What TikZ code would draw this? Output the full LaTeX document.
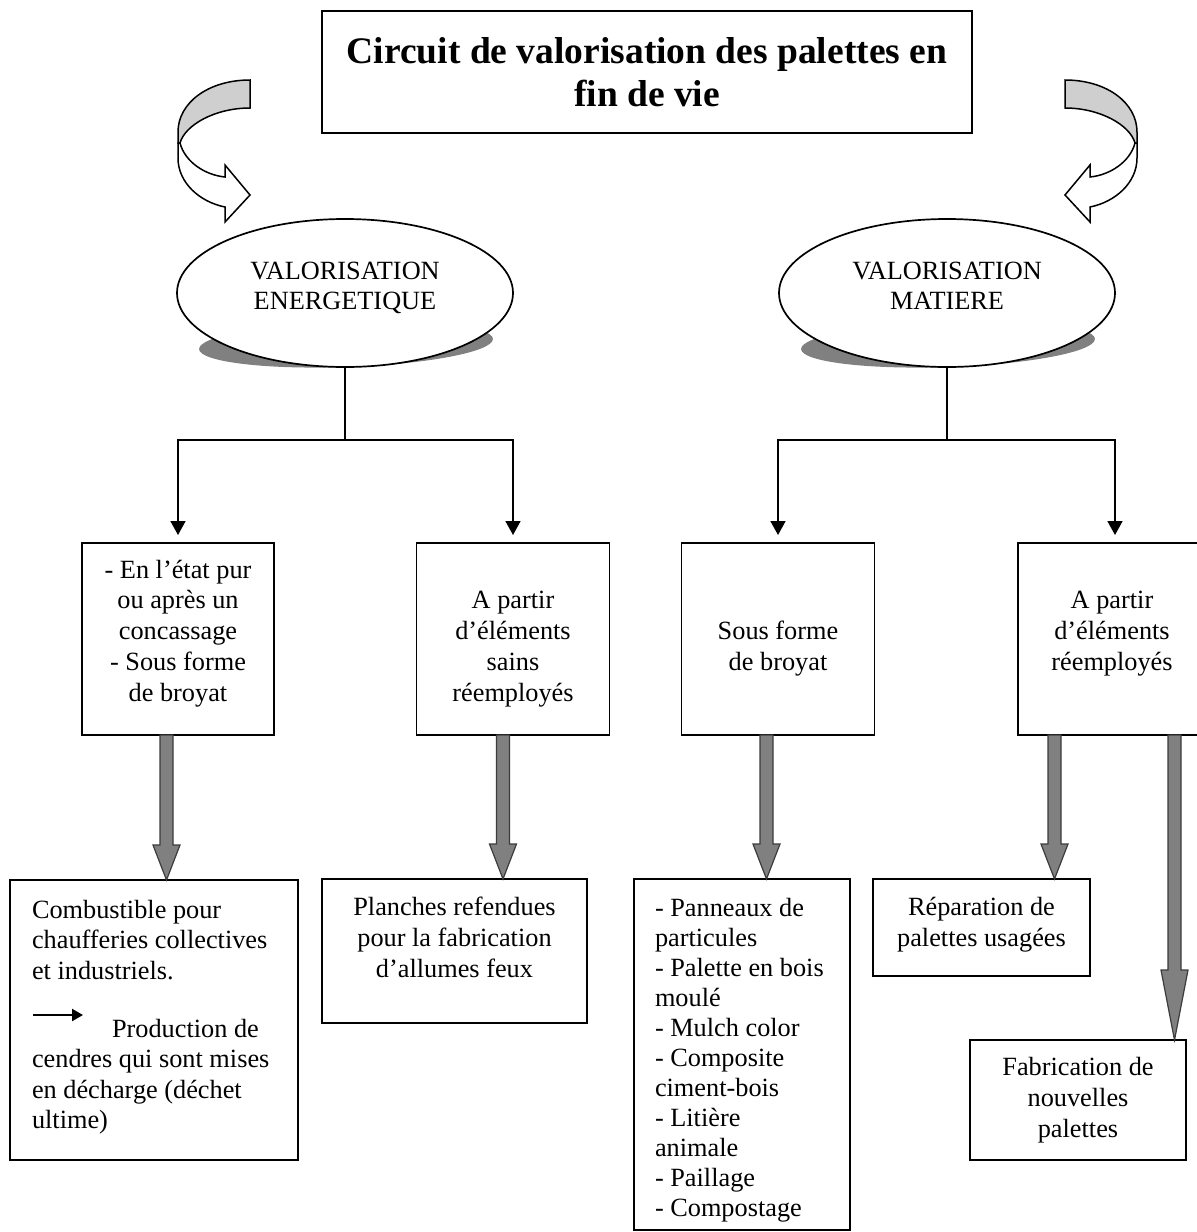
\documentclass[tikz,border=0pt]{standalone}
\usepackage{fontspec}
\setmainfont{Liberation Serif}
\usetikzlibrary{shapes.geometric,arrows.meta,calc}
\definecolor{shadowgray}{HTML}{808080}
\definecolor{bandgray}{HTML}{CFCFCF}
\definecolor{fatfill}{HTML}{808080}
\definecolor{fatedge}{HTML}{3C3C3C}
\newcommand\bodyfont[1]{\fontsize{26.3}{#1}\selectfont}
\newcommand\firstln{\rule{0pt}{21pt}}
\newcommand\fatarr[3]{%
  \path[fatarrow] let \p1=(#1), \p2=(#2) in
  (\x1-6.5pt,\y1) -- (\x1-6.5pt,\y2+#3) -- (\x1-13.5pt,\y2+#3) -- (\x1,\y2)
  -- (\x1+13.5pt,\y2+#3) -- (\x1+6.5pt,\y2+#3) -- (\x1+6.5pt,\y1) -- cycle;}
\tikzset{
  box/.style={draw, line width=1.7pt, inner sep=0pt, outer sep=0pt, fill=white},
  oval/.style={ellipse, draw, line width=1.7pt, inner sep=0pt, outer sep=0pt, fill=white,
    minimum width=336pt, minimum height=148pt},
  txt/.style={inner sep=0pt, outer sep=0pt, align=center, anchor=north},
  ltxt/.style={inner sep=0pt, outer sep=0pt, align=left, anchor=north west},
  link/.style={line width=1.7pt, -{Triangle[length=14pt,width=15pt]}, shorten >=8pt},
  plainlink/.style={line width=1.7pt},
  fatarrow/.style={fill=fatfill, draw=fatedge, line width=1.2pt, line join=miter},
  curvedarrow/.pic={
    \path[draw=black, fill=white, line width=1.5pt, line join=miter]
      (178,143) -- (178,158) .. controls (178,183) and (200,202) .. (225,207)
      -- (225,222) -- (250,195) -- (225,165) -- (225,177)
      .. controls (205,175) and (185,162) .. (180,143) -- cycle;
    \path[draw=black, fill=bandgray, line width=1.5pt, line join=miter]
      (250,80) .. controls (208,80) and (178,103) .. (178,132) -- (178,143) -- (180,143)
      .. controls (185,125) and (215,108) .. (250,108) -- cycle;
  }
}
\begin{document}
\begin{tikzpicture}[x=1pt,y=-1pt]
\useasboundingbox (0,0) rectangle (1197,1232);
\fill[white] (0,0) rectangle (1197,1232);
\clip (0,0) rectangle (1197,1232);

% title
\node[box, minimum width=650pt, minimum height=122pt] (title) at (647,72) {};
\node[txt, font=\bfseries\fontsize{37.5}{43}\selectfont] (ttl) at (647,33)
  {\rule{0pt}{30pt}Circuit de valorisation des palettes en\\fin de vie};

% curved arrows
\pic at (0,0) {curvedarrow};
\pic[xscale=-1] at (1315,0) {curvedarrow};

% shadows and ellipses
\fill[shadowgray, rotate around={2:(346,344)}] (346,344) ellipse [x radius=147pt, y radius=23pt];
\fill[shadowgray, rotate around={2:(948,344)}] (948,344) ellipse [x radius=147pt, y radius=23pt];
\node[oval] (e1) at (345,293) {};
\node[oval] (e2) at (947,293) {};
\node[txt, font=\bodyfont{30}] (e1t) at (345,258) {\firstln VALORISATION\\ENERGETIQUE};
\node[txt, font=\bodyfont{30}] (e2t) at (947,258) {\firstln VALORISATION\\MATIERE};

% second row boxes
\node[box, minimum width=192pt, minimum height=192pt] (n1) at (178,639) {};
\node[box, minimum width=193pt, minimum height=192pt] (n2) at (513,639) {};
\node[box, minimum width=193pt, minimum height=192pt] (n3) at (778,639) {};
\node[box, minimum width=194pt, minimum height=192pt] (n4) at (1115,639) {};
\node[txt, font=\bodyfont{30.75}] (n1t) at (178,557)
  {\firstln- En l’état pur\\ou après un\\concassage\\- Sous forme\\de broyat};
\node[txt, font=\bodyfont{30.75}] (n2t) at (513,587.75)
  {\firstln A partir\\d’éléments\\sains\\réemployés};
\node[txt, font=\bodyfont{30.75}] (n3t) at (778,618.5)
  {\firstln Sous forme\\de broyat};
\node[txt, font=\bodyfont{30.75}] (n4t) at (1112,587.75)
  {\firstln A partir\\d’éléments\\réemployés};

% connectors
\coordinate (j1) at (345,440);
\coordinate (j2) at (947,440);
\draw[plainlink] (e1.south) -- (j1);
\draw[link] (j1) -| (n1.north);
\draw[link] (j1) -| (n2.north);
\draw[plainlink] (e2.south) -- (j2);
\draw[link] (j2) -| (n3.north);
\draw[link] (j2) -| (n4.north);

% third row boxes
\node[box, minimum width=265pt, minimum height=144pt] (n5) at (454.5,951) {};
\node[box, minimum width=288pt, minimum height=280pt] (n6) at (154,1020) {};
\node[box, minimum width=216pt, minimum height=351pt] (n7) at (742,1054.5) {};
\node[box, minimum width=217pt, minimum height=97pt] (n8) at (981.5,927.5) {};
\node[box, minimum width=216pt, minimum height=120pt] (n9) at (1078,1100) {};

\node[txt, font=\bodyfont{31}] (n5t) at (454.5,894)
  {\firstln Planches refendues\\pour la fabrication\\d’allumes feux};
\node[ltxt, font=\bodyfont{30.5}] (n6t) at (32,897)
  {\firstln Combustible pour\\chaufferies collectives\\et industriels.};
\node[ltxt, font=\bodyfont{30.5}] (n6u) at (32,1016)
  {\firstln\hspace*{80pt}Production de\\cendres qui sont mises\\en décharge (déchet\\ultime)};
\coordinate (pa) at (33,1015);
\coordinate (pb) at (83,1015);
\draw[line width=2.2pt, -{Triangle[length=11pt,width=12pt]}] (pa) -- (pb);
\node[ltxt, font=\bodyfont{30}] (n7t) at (655,895)
  {\firstln- Panneaux de\\particules\\- Palette en bois\\moulé\\- Mulch color\\- Composite\\ciment-bois\\- Litière\\animale\\- Paillage\\- Compostage};
\node[txt, font=\bodyfont{31}] (n8t) at (981.5,894)
  {\firstln Réparation de\\palettes usagées};
\node[txt, font=\bodyfont{31}] (n9t) at (1078,1054)
  {\firstln Fabrication de\\nouvelles\\palettes};

% fat arrows
\coordinate (a1s) at ($(n1.south)+(-11.5,0)$);
\coordinate (a1e) at (a1s |- n6.north);
\coordinate (a2s) at ($(n2.south)+(-10,0)$);
\coordinate (a2e) at (a2s |- n5.north);
\coordinate (a3s) at ($(n3.south)+(-11.5,0)$);
\coordinate (a3e) at (a3s |- n7.north);
\coordinate (a4s) at ($(n4.south)+(-60.5,0)$);
\coordinate (a4e) at (a4s |- n8.north);
\coordinate (a5s) at ($(n4.south)+(59.5,0)$);
\coordinate (a5e) at (a5s |- n9.north);
\fatarr{a1s}{a1e}{35pt}
\fatarr{a2s}{a2e}{35pt}
\fatarr{a3s}{a3e}{35pt}
\fatarr{a4s}{a4e}{35pt}
\fatarr{a5s}{a5e}{70pt}
\end{tikzpicture}
\end{document}
